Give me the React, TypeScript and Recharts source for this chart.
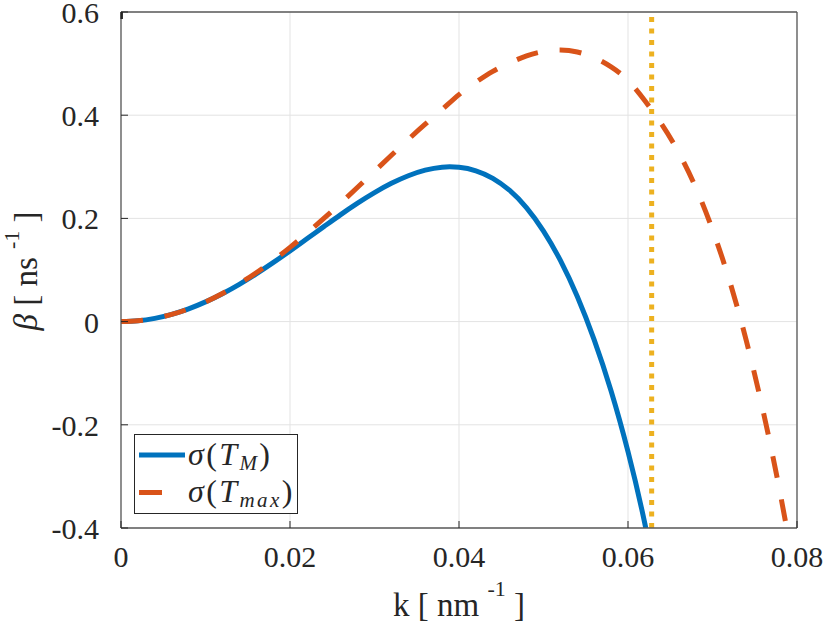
import React from 'react';
import { LineChart, Line, XAxis, YAxis, CartesianGrid, ReferenceLine, Legend } from 'recharts';

// k grid [nm^-1]
const kGrid = [
  0, 0.002, 0.004, 0.006, 0.008, 0.01, 0.012, 0.014, 0.016, 0.018,
  0.02, 0.022, 0.024, 0.026, 0.028, 0.03, 0.032, 0.034, 0.036, 0.038,
  0.04, 0.042, 0.044, 0.046, 0.048, 0.05, 0.052, 0.054, 0.056, 0.058,
  0.06, 0.062, 0.064, 0.066, 0.068, 0.07, 0.072, 0.074, 0.076, 0.078,
  0.08,
];

// growth rate beta [ns^-1] for sigma(T_M)
const sigmaTM = [
  0, 0.0016, 0.0063, 0.014, 0.0247, 0.0382, 0.0541, 0.0723, 0.0925, 0.1142,
  0.137, 0.1605, 0.184, 0.2074, 0.2296, 0.25, 0.268, 0.2827, 0.2935, 0.2993,
  0.299, 0.2923, 0.2777, 0.2541, 0.2205, 0.1755, 0.1185, 0.0485, -0.0355, -0.1345,
  -0.252, -0.392, -0.56, null, null, null, null, null, null, null,
  null,
];

// growth rate beta [ns^-1] for sigma(T_max)
const sigmaTmax = [
  0, 0.0016, 0.0062, 0.0139, 0.0246, 0.0381, 0.0544, 0.0734, 0.0947, 0.1183,
  0.1438, 0.1711, 0.1999, 0.2297, 0.2603, 0.2913, 0.3223, 0.353, 0.3826, 0.411,
  0.44, 0.464, 0.485, 0.5015, 0.515, 0.5235, 0.5262, 0.5225, 0.5116, 0.4937,
  0.4674, 0.428, 0.382, 0.3275, 0.2605, 0.178, 0.08, -0.037, -0.174, -0.332,
  -0.512,
];

const seriesNames = ['σ(T_M)', 'σ(T_max)'];
const seriesSubs = ['M', 'max'];
const xTicks = [0, 0.02, 0.04, 0.06, 0.08];
const yTicks = [-0.4, -0.2, 0, 0.2, 0.4, 0.6];
const kMarker = 0.0628;

const data = kGrid.map((k, i) => ({ k, tm: sigmaTM[i], tmax: sigmaTmax[i] }));

const W = 830;
const H = 624;
const LEFT = 121;
const RIGHT = 33;
const TOP = 12;
const BOTTOM = 96;
const FONT = 'Liberation Serif';
const INK = '#262626';
const BOX = '#5a5a5a';
const TICK = 7;

const LeftTick = (p: any) => (
  <g>
    <line x1={p.x} x2={p.x + TICK} y1={p.y} y2={p.y} stroke={INK} />
    <text x={p.x - 22} y={p.y + 11} textAnchor="end" fontFamily={FONT} fontSize={30} fill={INK}>
      {String(p.payload.value)}
    </text>
  </g>
);

const RightTick = (p: any) => (
  <line x1={p.x - TICK} x2={p.x} y1={p.y} y2={p.y} stroke={INK} />
);

const BottomTick = (p: any) => (
  <g>
    <line x1={p.x} x2={p.x} y1={p.y - TICK} y2={p.y} stroke={INK} />
    <text x={p.x} y={p.y + 39} textAnchor="middle" fontFamily={FONT} fontSize={30} fill={INK}>
      {String(p.payload.value)}
    </text>
  </g>
);

const TopTick = (p: any) => (
  <line x1={p.x} x2={p.x} y1={p.y} y2={p.y + TICK} stroke={INK} />
);

const XLabel = () => {
  const cx = LEFT + (W - LEFT - RIGHT) / 2;
  return (
    <text x={cx} y={H - 8} textAnchor="middle" fontFamily={FONT} fontSize={33} fill={INK}>
      k [ nm <tspan fontSize={22} dy={-20}>-1</tspan>
      <tspan dy={20}> ]</tspan>
    </text>
  );
};

const YLabel = () => {
  const cx = 37;
  const cy = TOP + (H - TOP - BOTTOM) / 2 + 1;
  return (
    <text
      x={cx}
      y={cy}
      transform={`rotate(-90, ${cx}, ${cy})`}
      textAnchor="middle"
      fontFamily={FONT}
      fontSize={33}
      fill={INK}
    >
      <tspan fontStyle="italic">β</tspan> [ ns <tspan fontSize={22} dy={-18}>-1</tspan>
      <tspan dy={18}> ]</tspan>
    </text>
  );
};

const LegendBox = ({ payload }: any) => (
  <svg width={164} height={80} style={{ display: 'block' }}>
    <rect x={0.5} y={0.5} width={163} height={79} fill="#fff" stroke={INK} />
    {(payload || []).map((entry: any, i: number) => {
      const idx = Math.max(0, seriesNames.indexOf(entry.value));
      const cy = 21 + idx * 37.5;
      const dashed = entry.payload && entry.payload.strokeDasharray;
      return (
        <g key={i}>
          <line
            x1={5}
            x2={51}
            y1={cy}
            y2={cy}
            stroke={entry.color}
            strokeWidth={5}
            strokeDasharray={dashed ? '23 30' : undefined}
          />
          <text x={54} y={cy + 9.5} fontFamily={FONT} fontSize={32} fill={INK} letterSpacing={2.4}>
            <tspan fontStyle="italic">σ</tspan>(<tspan fontStyle="italic">T</tspan>
            <tspan fontStyle="italic" fontSize={21} dy={5}>{seriesSubs[idx]}</tspan>
            <tspan dy={-5}>)</tspan>
          </text>
        </g>
      );
    })}
  </svg>
);

export default function App() {
  return (
    <div style={{ position: 'absolute', left: 0, top: 0, background: '#fff' }}>
      <LineChart width={W} height={H} data={data} margin={{ top: 0, right: 0, left: 0, bottom: 0 }}>
        <CartesianGrid stroke="#e3e3e3" strokeWidth={1} />
        <XAxis
          dataKey="k"
          type="number"
          domain={[0, 0.08]}
          ticks={xTicks}
          interval={0}
          allowDataOverflow
          height={BOTTOM}
          tickSize={0}
          tickMargin={0}
          tickLine={false}
          axisLine={{ stroke: BOX, strokeWidth: 1.3 }}
          tick={BottomTick}
          label={XLabel}
        />
        <XAxis
          xAxisId="top"
          orientation="top"
          type="number"
          domain={[0, 0.08]}
          ticks={xTicks}
          interval={0}
          height={TOP}
          tickSize={0}
          tickMargin={0}
          tickLine={false}
          axisLine={{ stroke: BOX, strokeWidth: 1.3 }}
          tick={TopTick}
        />
        <YAxis
          type="number"
          domain={[-0.4, 0.6]}
          ticks={yTicks}
          interval={0}
          allowDataOverflow
          width={LEFT}
          tickSize={0}
          tickMargin={0}
          tickLine={false}
          axisLine={{ stroke: BOX, strokeWidth: 1.3 }}
          tick={LeftTick}
          label={YLabel}
        />
        <YAxis
          yAxisId="right"
          orientation="right"
          type="number"
          domain={[-0.4, 0.6]}
          ticks={yTicks}
          interval={0}
          width={RIGHT}
          tickSize={0}
          tickMargin={0}
          tickLine={false}
          axisLine={{ stroke: BOX, strokeWidth: 1.3 }}
          tick={RightTick}
        />
        <Line
          dataKey="tm"
          name={seriesNames[0]}
          type="natural"
          stroke="#0072BD"
          strokeWidth={5}
          dot={false}
          activeDot={false}
          isAnimationActive={false}
        />
        <Line
          dataKey="tmax"
          name={seriesNames[1]}
          type="natural"
          stroke="#D95319"
          strokeWidth={5}
          strokeDasharray="22 22"
          dot={false}
          activeDot={false}
          isAnimationActive={false}
        />
        <ReferenceLine x={kMarker} stroke="#EDB120" strokeWidth={5} strokeDasharray="5 6.5" />
        <Legend
          layout="vertical"
          align="center"
          verticalAlign="middle"
          content={LegendBox}
          wrapperStyle={{ left: 134, top: 434, width: 164, height: 80 }}
        />
      </LineChart>
    </div>
  );
}
